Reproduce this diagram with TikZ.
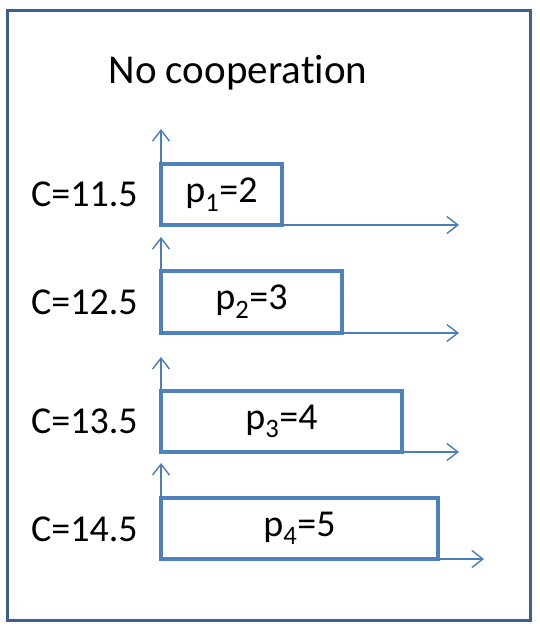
\documentclass[tikz,border=0pt]{standalone}
\usepackage{fontspec}
\setmainfont[Ligatures=NoCommon]{Carlito}
\usetikzlibrary{arrows.meta}
\definecolor{frameblue}{HTML}{3C5F8C}
\definecolor{boxblue}{HTML}{4F81BD}
\definecolor{axisblue}{HTML}{4A7EBB}
\tikzset{
  jobbox/.style={draw=boxblue, line width=4.5pt, fill=white, inner sep=0pt, outer sep=0pt, anchor=north west, font=\fontsize{38}{44}\selectfont},
  clabel/.style={anchor=west, font=\fontsize{38}{44}\selectfont, inner sep=0pt},
  axis/.style={draw=axisblue, line width=1.4pt, -{Straight Barb[length=11pt,width=17pt,line width=1.4pt]}},
}
\begin{document}
\begin{tikzpicture}[x=1pt,y=-1pt]
\useasboundingbox (0,0) rectangle (540,627);
\draw[frameblue, line width=3pt] (7,10) rectangle (530,620);
\node[font=\fontsize{41}{48}\selectfont] (title) at (238,73) {No coopera\kern0pt t\kern0pt ion};

\node[jobbox, minimum width=121pt, minimum height=61pt] (b1) at (161,164) {\raisebox{-2pt}{p\textsubscript{1}=2}};
\node[jobbox, minimum width=181pt, minimum height=62pt] (b2) at (161,271) {\raisebox{-2pt}{p\textsubscript{2}=3}};
\node[jobbox, minimum width=241pt, minimum height=61pt] (b3) at (161,391) {\raisebox{-2pt}{p\textsubscript{3}=4}};
\node[jobbox, minimum width=277pt, minimum height=61pt] (b4) at (161,498) {\raisebox{-2pt}{p\textsubscript{4}=5}};

\node[clabel] (c1) at (31,194) {C=11.5};
\node[clabel] (c2) at (31,302) {C=12.5};
\node[clabel] (c3) at (31,421) {C=13.5};
\node[clabel] (c4) at (31,529) {C=14.5};

\coordinate (v1) at (161,129);
\coordinate (v2) at (161,237);
\coordinate (v3) at (161,357);
\coordinate (v4) at (161,463);
\coordinate (h1) at (459,225);
\coordinate (h2) at (459,333);
\coordinate (h3) at (459,452);
\coordinate (h4) at (484,559);

\draw[axis] (b1.north west) -- (v1);
\draw[axis] (b2.north west) -- (v2);
\draw[axis] (b3.north west) -- (v3);
\draw[axis] (b4.north west) -- (v4);
\draw[axis] (b1.south east) -- (b1.south east -| h1);
\draw[axis] (b2.south east) -- (b2.south east -| h2);
\draw[axis] (b3.south east) -- (b3.south east -| h3);
\draw[axis] (b4.south east) -- (b4.south east -| h4);
\end{tikzpicture}
\end{document}
